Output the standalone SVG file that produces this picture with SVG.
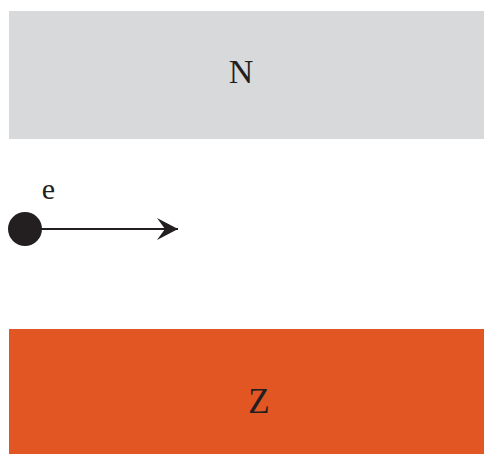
<svg xmlns="http://www.w3.org/2000/svg" width="484" height="454" viewBox="0 0 484 454">
<style>
text{font-family:"Liberation Serif","Times New Roman",serif;fill:#231f20;text-anchor:middle}
</style>
<defs>
<marker id="arr" markerUnits="userSpaceOnUse" markerWidth="24" markerHeight="26" refX="21" refY="11" orient="auto">
<path d="M0,0 L21,11 L0,22 L8,11 Z" fill="#231f20"/>
</marker>
</defs>
<rect width="484" height="454" fill="#fff"/>
<g id="N">
<rect x="9" y="11" width="475" height="128" fill="#d8d9db"/>
<text x="241" y="83" font-size="34">N</text>
</g>
<g id="Z">
<rect x="9" y="329" width="475" height="125" fill="#e15623"/>
<text x="259" y="413" font-size="35">Z</text>
</g>
<g id="electron">
<circle cx="25" cy="229" r="17" fill="#231f20"/>
<text x="48.5" y="199" font-size="30">e</text>
</g>
<g id="connectors">
<line x1="40" y1="229" x2="178" y2="229" stroke="#231f20" stroke-width="2" marker-end="url(#arr)"/>
</g>
</svg>
